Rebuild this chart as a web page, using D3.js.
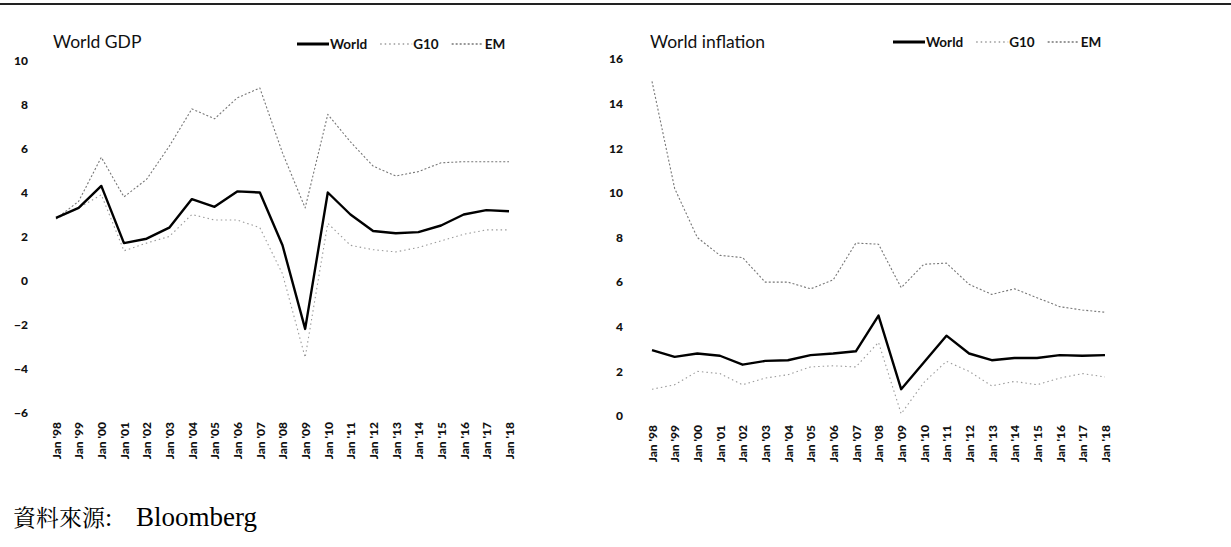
<!DOCTYPE html>
<html>
<head>
<meta charset="utf-8">
<script src="https://cdn.jsdelivr.net/npm/d3@7"></script>
<style>
	body { margin: 0; background: #fff; }
	svg { display: block; }
	.ax text { font-family: Lato, "Open Sans", sans-serif; font-weight: 900; fill: #111; }
	.ax path, .ax line { display: none; }
</style>
</head>
<body>
<div id="chart"></div>
<script>
// years on the category axis
var years = ["Jan '98","Jan '99","Jan '00","Jan '01","Jan '02","Jan '03","Jan '04",
	"Jan '05","Jan '06","Jan '07","Jan '08","Jan '09","Jan '10","Jan '11","Jan '12",
	"Jan '13","Jan '14","Jan '15","Jan '16","Jan '17","Jan '18"];

// World GDP (% y/y)
var gdpWorld = [2.85,3.3,4.3,1.7,1.9,2.4,3.7,3.35,4.05,4.0,1.6,-2.2,4.0,3.0,2.25,2.15,2.2,2.5,3.0,3.2,3.15];
var gdpG10   = [2.8,3.3,3.9,1.35,1.7,2.0,3.0,2.75,2.75,2.4,0.3,-3.5,2.6,1.6,1.4,1.3,1.5,1.8,2.1,2.3,2.3];
var gdpEM    = [2.8,3.6,5.6,3.8,4.6,6.1,7.8,7.35,8.3,8.75,5.8,3.3,7.55,6.3,5.2,4.75,4.95,5.35,5.4,5.4,5.4];
var gdpTicks = [10,8,6,4,2,0,-2,-4,-6];

// World inflation (% y/y)
var infWorld = [2.95,2.65,2.8,2.7,2.3,2.47,2.5,2.73,2.8,2.9,4.5,1.2,2.4,3.6,2.8,2.5,2.6,2.6,2.73,2.7,2.73];
var infG10   = [1.2,1.4,2.0,1.9,1.4,1.7,1.85,2.2,2.25,2.2,3.3,0.1,1.5,2.45,2.0,1.35,1.55,1.4,1.7,1.9,1.75];
var infEM    = [15.0,10.2,8.0,7.2,7.1,6.0,6.0,5.7,6.1,7.75,7.7,5.75,6.8,6.85,5.9,5.45,5.7,5.3,4.9,4.75,4.65];
var infTicks = [16,14,12,10,8,6,4,2,0];

var W = 1231, H = 547;

var svg = d3.select("#chart").append("svg")
	.attr("width", W)
	.attr("height", H);

// scan edge line at the very top
svg.append("line")
	.attr("x1", 0).attr("x2", W)
	.attr("y1", 4).attr("y2", 4)
	.attr("stroke", "#222")
	.attr("stroke-width", 1.8);

var styles = {
	World: {color: "#000", width: 2.4, dash: null},
	G10:   {color: "#9a9a9a", width: 1.1, dash: "1.5,3"},
	EM:    {color: "#777", width: 1.1, dash: "2,2"}
};

function drawChart(opt) {
	var g = svg.append("g");

	var x = d3.scalePoint()
		.domain(years)
		.range([opt.x0, opt.x1]);
	var y = d3.scaleLinear()
		.domain(opt.domain)
		.range([opt.yBottom, opt.yTop]);

	// y axis, labels only
	g.append("g")
		.attr("class", "ax")
		.attr("transform", "translate(" + opt.axisX + ",0)")
		.call(d3.axisLeft(y).tickValues(opt.ticks).tickSize(0).tickPadding(3))
		.selectAll("text")
		.style("font-size", "12px");

	// x axis, rotated labels
	g.append("g")
		.attr("class", "ax")
		.attr("transform", "translate(0," + opt.labelY + ")")
		.call(d3.axisBottom(x).tickSize(0))
		.selectAll("text")
		.attr("x", 0)
		.attr("y", 0)
		.attr("dy", "0.36em")
		.attr("transform", "rotate(-90)")
		.style("text-anchor", "end")
		.style("font-size", "12px");

	var line = d3.line()
		.x(function (d, i) { return x(years[i]); })
		.y(function (d) { return y(d); });

	// draw G10 and EM first so World sits on top
	[["G10", opt.g10], ["EM", opt.em], ["World", opt.world]].forEach(function (s) {
		var st = styles[s[0]];
		g.append("path")
			.datum(s[1])
			.attr("fill", "none")
			.attr("stroke", st.color)
			.attr("stroke-width", st.width)
			.attr("stroke-dasharray", st.dash)
			.attr("stroke-linejoin", "round")
			.attr("d", line);
	});

	// title
	g.append("text")
		.attr("x", opt.titleX)
		.attr("y", 48)
		.style("font-family", "Lato, 'Open Sans', sans-serif")
		.style("font-size", "17.5px")
		.style("fill", "#111")
		.text(opt.title);

	// legend
	var lg = g.append("g")
		.attr("transform", "translate(" + opt.legendX + "," + opt.legendY + ")");
	var lx = 0;
	["World", "G10", "EM"].forEach(function (k) {
		var st = styles[k];
		lg.append("line")
			.attr("x1", lx).attr("x2", lx + 32)
			.attr("y1", 0).attr("y2", 0)
			.attr("stroke", k == "World" ? "#000" : st.color)
			.attr("stroke-width", k == "World" ? 3 : 1.3)
			.attr("stroke-dasharray", st.dash);
		var t = lg.append("text")
			.attr("x", lx + 33)
			.attr("y", 0)
			.attr("dy", "0.35em")
			.style("font-family", "Lato, 'Open Sans', sans-serif")
			.style("font-weight", "bold")
			.style("font-size", "13.5px")
			.style("fill", "#111")
			.text(k);
		lx += 33 + t.node().getComputedTextLength() + 13;
	});
}

drawChart({
	title: "World GDP", titleX: 53,
	x0: 56, x1: 509, yTop: 60.5, yBottom: 412.5, domain: [-6, 10],
	ticks: gdpTicks, axisX: 31, labelY: 422,
	legendX: 297, legendY: 44,
	world: gdpWorld, g10: gdpG10, em: gdpEM
});

drawChart({
	title: "World inflation", titleX: 650,
	x0: 652, x1: 1105, yTop: 59, yBottom: 416, domain: [0, 16],
	ticks: infTicks, axisX: 626, labelY: 425,
	legendX: 893, legendY: 42,
	world: infWorld, g10: infG10, em: infEM
});

// source note
var src = svg.append("text")
	.attr("x", 13)
	.attr("y", 526)
	.style("fill", "#000");
src.append("tspan")
	.style("font-family", "'Noto Serif CJK TC', 'Noto Sans CJK TC', serif")
	.style("font-size", "23px")
	.text("資料來源");
src.append("tspan")
	.style("font-family", "'Liberation Serif', 'Times New Roman', serif")
	.style("font-size", "26px")
	.text(":");
src.append("tspan")
	.attr("x", 136)
	.style("font-family", "'Liberation Serif', 'Times New Roman', serif")
	.style("font-size", "27px")
	.text("Bloomberg");
</script>
</body>
</html>
